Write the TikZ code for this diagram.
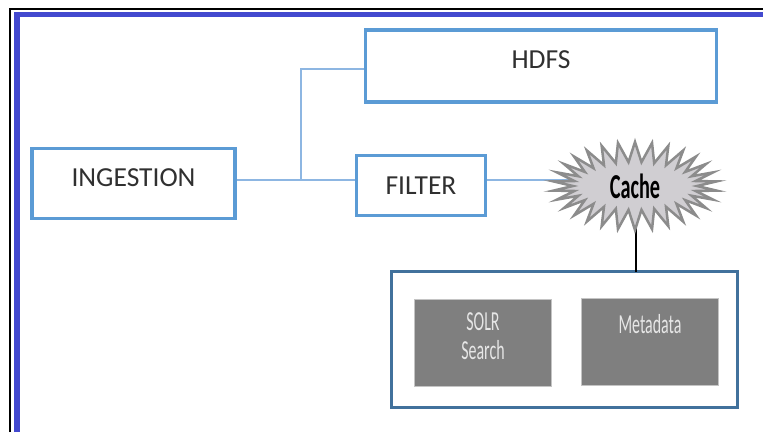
\documentclass[tikz,border=0pt]{standalone}
\usepackage{fontspec}
\setmainfont{Carlito}
\newfontfamily\narrowfont[FakeStretch=0.58]{Carlito}
\usetikzlibrary{shapes.symbols}
\definecolor{frameblue}{HTML}{4349CF}
\definecolor{boxblue}{HTML}{5B9BD5}
\definecolor{contblue}{HTML}{41719C}
\definecolor{linkblue}{HTML}{8DB6E2}
\definecolor{labelgray}{HTML}{303030}
\definecolor{grayfill}{HTML}{7F7F7F}
\definecolor{grayedge}{HTML}{C4C4C4}
\definecolor{graytext}{HTML}{E6E6E6}
\definecolor{burstfill}{HTML}{D0CED2}
\definecolor{burstedge}{HTML}{8C8C8C}
\tikzset{
  mainbox/.style={draw=boxblue, line width=3.5pt, fill=white, inner sep=0pt,
    text=labelgray, font=\fontsize{27.5}{31}\selectfont, text height=18pt},
  graybox/.style={draw=grayedge, line width=1pt, fill=grayfill, inner sep=0pt,
    text=graytext, font=\narrowfont\fontsize{27.5}{28}\selectfont},
  link/.style={draw=linkblue, line width=1.3pt}
}
\begin{document}
\begin{tikzpicture}[x=1pt,y=-1pt]
\useasboundingbox[fill=white] (0,0) rectangle (763,432);
\draw[black, line width=2.5pt] (10,432) -- (10,9) -- (763,9);
\draw[frameblue, line width=5.5pt] (17,432) -- (17,14.5) -- (763,14.5);

\coordinate (j) at (301,180);
\coordinate (jt) at (301,69);

\node[mainbox, minimum width=351pt, minimum height=72pt, text depth=14pt] (hdfs) at (541,66) {HDFS};
\node[mainbox, minimum width=203pt, minimum height=70pt, text depth=13pt] (ingest) at (133.5,183.5) {INGESTION};
\node[mainbox, minimum width=129pt, minimum height=60pt, text depth=1pt] (filter) at (421,185.5) {FILTER};

\node[draw=contblue, line width=3pt, fill=white, minimum width=346pt, minimum height=136pt] (cont) at (564.5,339.5) {};

\draw[link] (ingest.east |- j) -- (filter.west |- j);
\draw[link] (j) -- (jt) -- (hdfs.west |- jt);
\draw[link] (filter.east |- j) -- (636,180);
\draw[black, line width=2pt] (636,200) -- (636,271.5);

\node[starburst, starburst points=30, starburst point height=20pt, random starburst=0,
  draw=burstedge, fill=burstfill, line width=2.5pt, minimum width=164pt, minimum height=88pt,
  inner sep=0pt, font=\narrowfont\bfseries\fontsize{35}{36}\selectfont, text=black] (cache) at (635,186) {Cache};

\node[graybox, minimum width=137pt, minimum height=87pt] (solr) at (483,343)
  {\parbox[c][87pt][t]{137pt}{\centering\vspace*{13pt}SOLR\\[1.5pt]Search}};
\node[graybox, minimum width=137pt, minimum height=87pt] (meta) at (650,342)
  {\parbox[c][87pt][t]{137pt}{\centering\vspace*{16pt}Metadata}};
\end{tikzpicture}
\end{document}
